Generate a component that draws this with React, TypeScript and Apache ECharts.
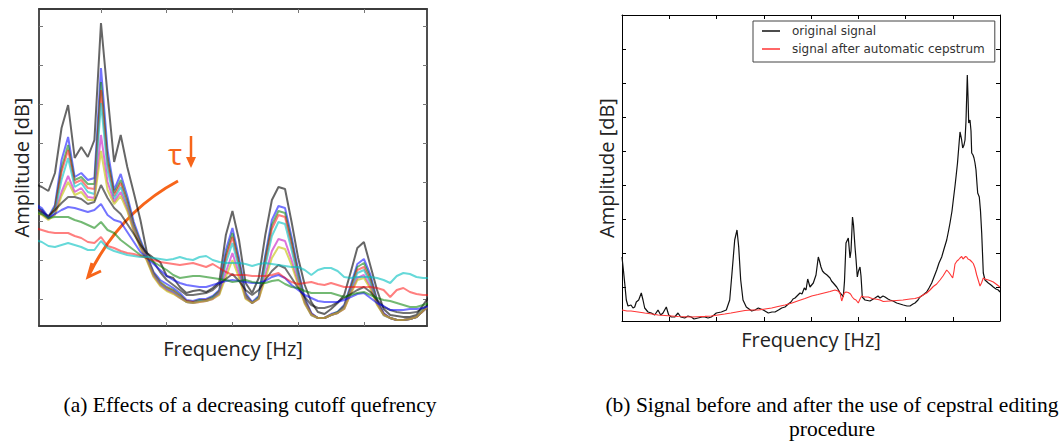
import React, { useEffect, useRef } from "react";
import * as echarts from "echarts";

// ---------- (a) Effects of a decreasing cutoff quefrency: amplitude per frequency bin (bins 0..60)
const tauOriginal = [142,139,135,153,198,221,168,179,169,186,303,231,164,191,159,133,106,73,68,64,50,48,39,33,35,36,34,38,44,91,115,86,43,33,48,91,126,139,137,104,68,41,24,14,12,17,23,31,54,78,84,60,36,17,11,10,9,9,11,21,30];
const tauB1 = [122,118,109,121,166,189,149,153,146,148,258,176,136,152,130,104,86,70,54,46,42,38,33,26,25,27,27,30,36,76,98,68,33,24,30,71,106,120,118,89,56,28,13,8,8,12,14,21,41,62,67,51,26,13,8,6,6,7,9,15,21];
const tauG1 = [120,116,108,119,158,181,146,149,142,142,244,168,133,146,126,101,84,69,53,44,39,36,31,25,24,26,26,29,35,71,93,64,31,23,29,68,101,115,113,85,53,26,12,8,8,11,14,20,39,59,63,48,25,12,8,6,6,7,9,16,22];
const tauR1 = [118,115,108,117,154,176,143,146,138,137,236,163,130,143,123,99,82,68,52,43,38,35,30,25,24,25,26,28,34,68,89,61,30,23,28,64,97,111,109,81,50,25,12,8,8,11,13,19,37,56,59,45,24,12,8,6,6,7,9,15,21];
const tauC1 = [116,113,107,114,146,168,139,143,134,132,223,156,127,139,120,97,80,67,51,42,37,34,29,24,23,25,25,28,33,63,83,58,29,23,28,60,90,104,102,76,48,24,11,8,8,11,13,18,35,53,56,43,23,11,8,6,6,7,9,15,21];
const tauM1 = [115,112,107,112,134,150,134,138,129,128,191,144,124,134,117,95,79,66,50,41,36,33,28,24,23,24,25,27,32,54,73,52,28,23,27,51,75,87,85,66,43,23,11,8,8,11,13,17,33,48,51,39,22,11,8,6,6,7,9,15,21];
const tauY1 = [114,111,106,111,130,144,131,134,126,126,175,136,122,130,115,94,78,65,49,40,35,32,28,24,23,24,25,27,31,49,66,48,27,23,27,47,68,79,77,61,41,22,11,8,8,11,13,17,32,46,48,37,21,11,8,6,6,7,9,15,21];
const tauK = [117,114,110,116,123,129,129,127,122,124,141,128,118,112,102,92,81,73,64,54,46,41,36,31,31,32,33,36,42,47,52,45,36,31,36,46,55,61,58,48,38,29,21,18,18,20,24,28,32,36,39,34,26,19,16,14,13,13,14,18,22];
const tauB2 = [120,116,108,112,116,119,118,116,114,116,122,111,106,104,94,84,74,68,62,56,50,46,43,41,40,39,39,41,43,45,46,45,44,43,43,45,49,51,48,41,36,31,28,25,24,24,24,26,29,32,33,28,23,20,16,16,16,17,17,18,20];
const tauG2 = [114,112,108,109,109,109,106,104,101,98,104,96,93,86,81,76,71,68,64,60,56,51,48,49,50,50,49,48,47,46,44,45,46,44,43,43,45,46,42,39,38,35,33,33,33,33,31,29,31,33,34,31,28,26,25,23,21,19,19,21,23];
const tauR2 = [98,96,94,93,93,93,90,88,84,83,89,80,78,75,73,72,70,68,66,64,63,62,61,62,63,61,59,62,58,54,51,51,51,50,50,50,51,53,48,44,42,43,44,42,41,43,41,39,39,39,39,39,38,36,29,36,38,34,32,31,31];
const tauC2 = [86,84,80,79,81,83,81,79,76,76,85,78,75,73,71,70,69,69,68,67,66,67,69,67,66,69,70,66,64,63,63,63,62,60,62,63,62,61,60,59,59,56,51,56,58,58,55,49,48,49,49,49,48,46,43,50,53,52,49,48,48];

const aCurves = [tauOriginal, tauB1, tauG1, tauR1, tauC1, tauM1, tauY1, tauK, tauB2, tauG2, tauR2, tauC2];
const aColors = [
  "rgba(0,0,0,0.6)", "rgba(0,0,255,0.55)", "rgba(0,128,0,0.55)", "rgba(255,0,0,0.5)",
  "rgba(0,191,191,0.6)", "rgba(191,0,191,0.55)", "rgba(191,191,0,0.6)", "rgba(0,0,0,0.55)",
  "rgba(0,0,255,0.55)", "rgba(0,128,0,0.55)", "rgba(255,0,0,0.5)", "rgba(0,191,191,0.6)",
];
const aTicksX = [10, 20, 30, 40, 50];
const aTicksY = [27, 66, 105, 144, 183, 222, 261, 300];

// ---------- (b) Signal before / after cepstral editing
const origFreq = [0,1.5,2.7,4.3,6,9,11,12.7,14.3,16.7,19.3,21,22.7,26,29.3,32.7,36,38.7,41,44.3,46.7,49.3,52.7,56,58.7,62.7,66,69.3,72,76,80,82.7,86,89.3,92,94.3,99.3,104.3,107.7,110,112.7,115,116.7,118.7,121,124.3,129.7,133,136.3,141.3,146.3,150,153,156.5,159.7,163,166.3,169,171,173,175,178,180,182.3,184,185.7,188,191.3,194,196.3,197.5,199,200.5,202.3,205,208,209.5,211.3,213,214.7,216.5,218,220,221.3,222.5,224,226.3,227,228,229,230.5,231.5,233,234,235.3,236.5,238,239,240.3,243,248,253,256,258,261,263,266,268,271,274.7,278,281.3,285,288,291,293,296,298,301,304.7,307,309.7,312,314.7,317,319.7,322,324.7,326.5,328,330,331.3,333,334,335.5,336.3,338,339.5,340.7,342,343,344,345.3,346,346.7,348,349,349.7,351,352,353,354,355,355.7,357.3,358.5,359.7,360.5,361.3,363,366.3,369,371.3,374,376.3,378];
const origAmp = [64,50,38,21,15,16,13,14,19,21,28,21,13,9,8,6,11,6,8,14,6,4,4,8,4,3,5,4,2,3,4,4,3,4,6,8,9,11,21,48,81,91,74,41,21,14,10,11,13,11,8,9,9,11,13,14,17,19,22,23,25,28,27,33,31,42,34,38,46,64,60,54,50,48,46,43,40,38,36,34,31,28,26,24,40,78,83,75,63,70,104,96,74,62,44,50,54,45,24,21,20,23,25,23,25,24,22,21,20,18,17,16,15,15,17,18,21,24,26,29,33,38,44,51,58,64,72,81,90,98,110,121,135,144,158,168,189,182,173,176,181,200,246,225,198,201,190,168,166,163,158,151,137,128,124,110,88,68,48,41,38,36,34,32,31,29];
const cepFreq = [0,5,9,16,22.7,30,36,43,49.3,56,62.7,69,76,83,89.3,96,102.7,109,116,123,129.3,136.3,143,149.7,156,163,170,176.3,183,189.7,196,203,208,213,216,218,219.7,221,222.3,224,226.3,228.5,230.3,232,234,236.3,238,239.7,242,246.3,250,253,256,258,261.3,268,274.7,281,288,293,298,301,304.7,308,311.3,314.7,318,321,324.7,326.5,328,330.7,332,333,335,336.3,338,339.7,341,342,343.5,344.7,346,348,350,351.3,353,354.7,356.5,358,359.5,361.3,363,366.3,369,371.3,374,377.3,378];
const cepAmp = [11,10,10,9,8,7,6,5.5,5,4.5,4.3,4,4.3,4.6,5,6,7,8,9.3,10.5,11,11,12,13,14.5,16,18,20.3,22.5,25,26.5,28.3,29.5,31,30,28,20,24,28,29,28.5,27,24,22,21,18,22,25,24,24,22.5,22,21.5,21,19.5,20,20.5,21,22,22.5,24,26,28,31,34.5,37,41,45,51,49,47,43,50,57,60,61,63,64.5,62,63,64.5,64,62,61,59,57.5,53,46,40,35,38,43,42,41,40,39,37,34.5,34];
const legendNames = ["original signal", "signal after automatic cepstrum"];

const labelFont = { fontFamily: "Open Sans", fontSize: 20, color: "#222" };
const ORANGE = "#f7651a";

function buildOption() {
  const leftLine = { show: true, onZero: false, lineStyle: { color: "#3c3c3c", width: 1.8 } };
  const rightLine = { show: true, onZero: false, lineStyle: { color: "#000", width: 1 } };
  const leftTick = (vals: number[]) => ({ show: true, inside: true, length: 4, customValues: vals, lineStyle: { color: "#777", width: 1 } });
  const rightTick = { show: true, inside: true, length: 4, lineStyle: { color: "#000", width: 1 } };
  const off = { axisLabel: { show: false }, splitLine: { show: false } };

  const xAxis = [
    { gridIndex: 0, type: "value", position: "bottom", min: 0.57, max: 59.6, axisLine: leftLine, axisTick: leftTick(aTicksX), ...off,
      name: "Frequency [Hz]", nameLocation: "middle", nameGap: 12, nameTextStyle: labelFont },
    { gridIndex: 0, type: "value", position: "top", min: 0.57, max: 59.6, axisLine: leftLine, axisTick: leftTick(aTicksX), ...off },
    { gridIndex: 1, type: "value", position: "bottom", min: 0, max: 378, interval: 47.25, axisLine: rightLine, axisTick: rightTick, ...off,
      name: "Frequency [Hz]", nameLocation: "middle", nameGap: 8, nameTextStyle: labelFont },
    { gridIndex: 1, type: "value", position: "top", min: 0, max: 378, interval: 47.25, axisLine: rightLine, axisTick: rightTick, ...off },
  ];
  const yAxis = [
    { gridIndex: 0, type: "value", position: "left", min: 0, max: 317, axisLine: leftLine, axisTick: leftTick(aTicksY), ...off,
      name: "Amplitude [dB]", nameLocation: "middle", nameRotate: 90, nameGap: 8, nameTextStyle: labelFont },
    { gridIndex: 0, type: "value", position: "right", min: 0, max: 317, axisLine: leftLine, axisTick: leftTick(aTicksY), ...off },
    { gridIndex: 1, type: "value", position: "left", min: 0, max: 306, interval: 34, axisLine: rightLine, axisTick: rightTick, ...off,
      name: "Amplitude [dB]", nameLocation: "middle", nameRotate: 90, nameGap: 6, nameTextStyle: labelFont },
    { gridIndex: 1, type: "value", position: "right", min: 0, max: 306, interval: 34, axisLine: rightLine, axisTick: rightTick, ...off },
  ];

  const series: any[] = aCurves.map((vals, k) => ({
    name: "tau" + k,
    type: "line",
    xAxisIndex: 0,
    yAxisIndex: 0,
    data: vals.map((v, i) => [i, v]),
    symbol: "none",
    clip: true,
    silent: true,
    lineStyle: { color: aColors[k], width: 2 },
    itemStyle: { color: aColors[k] },
  }));
  series.push({
    name: legendNames[0], type: "line", xAxisIndex: 2, yAxisIndex: 2,
    data: origFreq.map((f, i) => [f, origAmp[i]]), symbol: "none", clip: true, silent: true,
    lineStyle: { color: "#111", width: 1.2 }, itemStyle: { color: "#111" },
  });
  series.push({
    name: legendNames[1], type: "line", xAxisIndex: 2, yAxisIndex: 2,
    data: cepFreq.map((f, i) => [f, cepAmp[i]]), symbol: "none", clip: true, silent: true,
    lineStyle: { color: "#ff3535", width: 1.1 }, itemStyle: { color: "#ff3535" },
  });

  const captionStyle = (text: string, x: number, y: number) => ({
    type: "text", x, y, silent: true,
    style: { text, fill: "#000", fontFamily: "Liberation Serif", fontSize: 21.5, align: "center", verticalAlign: "middle", textAlign: "center", textVerticalAlign: "middle" },
  });

  const graphic = [
    { type: "bezierCurve", silent: true, shape: { x1: 178, y1: 181, cpx1: 120, cpy1: 212, x2: 89, y2: 275 },
      style: { stroke: ORANGE, lineWidth: 3, fill: null } },
    { type: "polyline", silent: true, shape: { points: [[92, 263], [88, 277], [101, 271]] },
      style: { stroke: ORANGE, lineWidth: 3, fill: null } },
    { type: "text", x: 175, y: 153, silent: true,
      style: { text: "τ", fill: ORANGE, fontFamily: "Open Sans", fontSize: 30, align: "center", verticalAlign: "middle", textAlign: "center", textVerticalAlign: "middle" } },
    { type: "line", silent: true, shape: { x1: 191, y1: 136, x2: 191, y2: 160 }, style: { stroke: ORANGE, lineWidth: 2.5 } },
    { type: "polygon", silent: true, shape: { points: [[186, 157], [196, 157], [191, 168]] }, style: { fill: ORANGE } },
    captionStyle("(a) Effects of a decreasing cutoff quefrency", 250, 405),
    captionStyle("(b) Signal before and after the use of cepstral editing", 832, 405),
    captionStyle("procedure", 832, 429),
  ];

  return {
    animation: false,
    backgroundColor: "#fff",
    grid: [
      { left: 39, top: 9, width: 388, height: 317, outerBoundsMode: "none", containLabel: false },
      { left: 622, top: 15, width: 378, height: 306, outerBoundsMode: "none", containLabel: false },
    ],
    legend: [{
      data: legendNames,
      left: 753, top: 21, orient: "vertical",
      icon: "rect", itemWidth: 18, itemHeight: 1.5, itemGap: 4,
      padding: [3, 10, 6, 9],
      borderColor: "#444", borderWidth: 1, backgroundColor: "#fff",
      selectedMode: false,
      textStyle: { fontFamily: "DejaVu Sans", fontSize: 12, lineHeight: 14, color: "#333", padding: [0, 0, 0, 7] },
    }],
    xAxis, yAxis, series, graphic,
  };
}

export default function App() {
  const ref = useRef<HTMLDivElement>(null);
  useEffect(() => {
    const chart = echarts.init(ref.current!, null, { renderer: "svg" });
    chart.setOption(buildOption() as any);
    return () => chart.dispose();
  }, []);
  return <div ref={ref} style={{ position: "fixed", left: 0, top: 0, width: 1061, height: 441, background: "#fff" }} />;
}
